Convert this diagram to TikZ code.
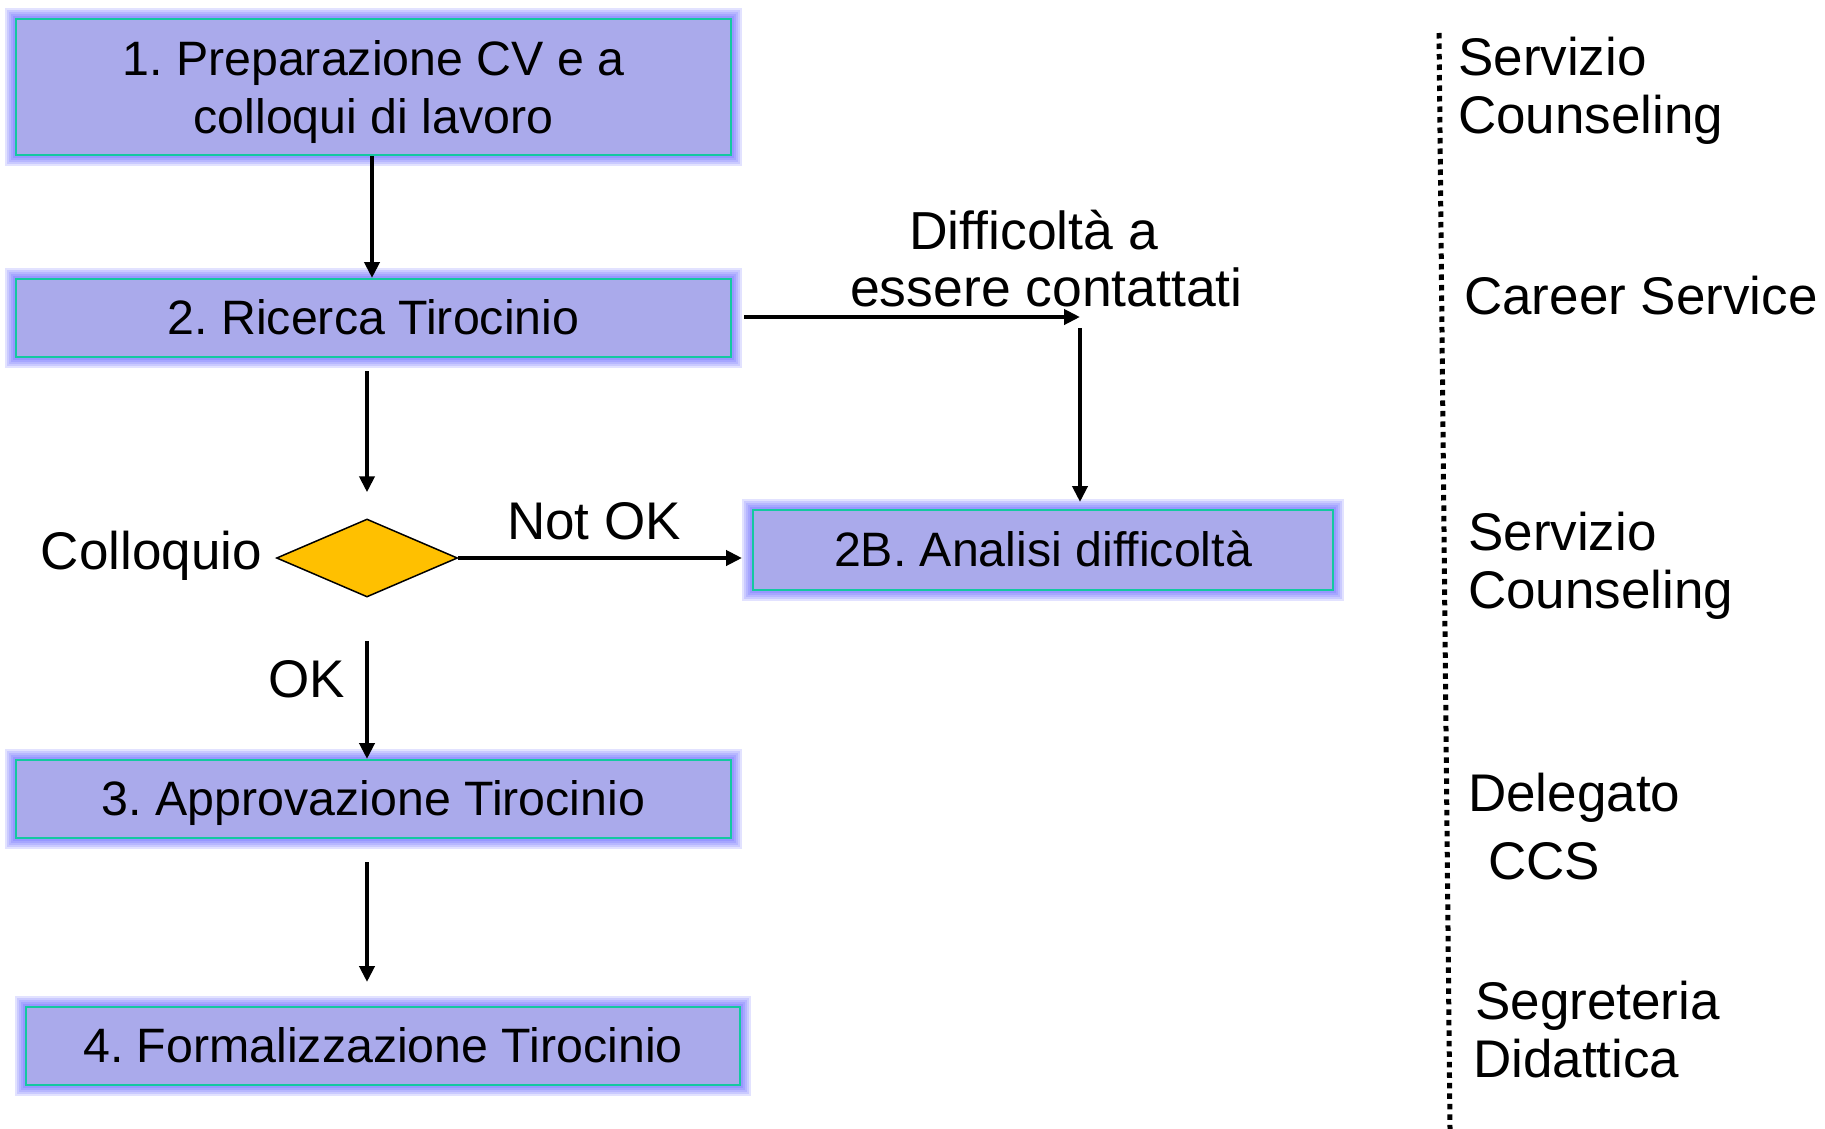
\documentclass[tikz,border=0pt]{standalone}
\usepackage{fontspec}
\setmainfont{Liberation Sans}
\frenchspacing
\usetikzlibrary{arrows.meta,shapes.geometric,calc}
\definecolor{boxfill}{RGB}{170,170,235}
\definecolor{boxline}{RGB}{20,200,160}
\definecolor{glowc}{RGB}{110,110,255}
\definecolor{diafill}{RGB}{255,192,0}
\begin{document}
\begin{tikzpicture}[x=1pt,y=-1pt,
  stepbox/.style={draw=boxline, line width=2pt, fill=boxfill, inner sep=0pt,
    font=\fontsize{48.3}{58}\selectfont, align=center,
    text height=43.7pt, text depth=10.2pt,
    preaction={draw=glowc, line width=22pt, draw opacity=0.2, rounded corners=11pt},
    preaction={draw=glowc, line width=18pt, draw opacity=0.2, rounded corners=9pt},
    preaction={draw=glowc, line width=14pt, draw opacity=0.2, rounded corners=7pt},
    preaction={draw=glowc, line width=10pt, draw opacity=0.22, rounded corners=5pt},
    preaction={draw=glowc, line width=6pt, draw opacity=0.25, rounded corners=3pt}},
  boxtxt/.style={font=\fontsize{48.3}{58}\selectfont, align=center, inner sep=0pt},
  lbl/.style={font=\fontsize{53}{58}\selectfont, inner sep=0pt},
  arr/.style={line width=4.5pt, -{Triangle[length=16pt,width=15pt]}},
]
\useasboundingbox (0,0) rectangle (1825,1129);
\fill[white] (0,0) rectangle (1825,1129);

% process boxes
\node[stepbox, minimum width=715pt, minimum height=136pt] (b1) at (373.5,87) {};
\node[boxtxt] (t1) at ($(b1.center)+(0,5)$) {1. Preparazione CV e a\\colloqui di lavoro};
\node[stepbox, minimum width=715pt, minimum height=78pt] (b2) at (373.5,318) {2. Ricerca Tirocinio};
\node[stepbox, minimum width=580pt, minimum height=80pt] (b2b) at (1043,550) {2B. Analisi difficoltà};
\node[stepbox, minimum width=715pt, minimum height=78pt] (b3) at (373.5,799) {3. Approvazione Tirocinio};
\node[stepbox, minimum width=714pt, minimum height=78pt] (b4) at (383,1046) {4. Formalizzazione Tirocinio};

% decision
\node[diamond, aspect=2.3, draw=black, line width=1.5pt, fill=diafill, inner sep=0pt,
      minimum width=181pt, minimum height=78pt] (dia) at (367,558) {};

% labels
\node[lbl, anchor=east] (col) at (262,556) {Colloquio};
\node[lbl] (nok) at (594,521) {Not OK};
\node[lbl] (ok) at (307,679) {OK};
\node[lbl, align=left, anchor=west, font=\fontsize{53.5}{57}\selectfont] (dif) at (850,259) {\hspace*{59pt}Difficoltà a\\essere contattati};

% connectors
\coordinate (c1) at (1080,317);
\draw[arr] ($(b1.south)+(-1.5,0)$) -- ($(b2.north)+(-1.5,0)$);
\draw[arr] ($(b2.east)+(12,-1)$) -- (c1);
\draw[arr] ($(c1)+(0,11)$) -- ($(c1 |- b2b.north)+(0,-7)$);
\draw[arr] ($(b2.south)+(-6.5,13)$) -- ($(dia.north)+(0,-26)$);
\draw[arr] (dia.east) -- ($(b2b.west)+(-10,8)$);
\draw[arr] ($(dia.south)+(0,43)$) -- (dia |- b3.north);
\draw[arr] ($(b3.south)+(-6.5,23)$) -- ($(b4.north)+(-16,-24)$);

% separator
\coordinate (dt) at (1439,33);
\coordinate (db) at (1450,1129);
\draw[line width=5pt, dash pattern=on 5.5pt off 5pt] (dt) -- (db);

% responsibility labels
\node[lbl, anchor=west, align=left] (r1) at (1458,91) {Servizio\\Counseling};
\node[lbl, anchor=west] (r2) at (1464,296) {Career Service};
\node[lbl, anchor=west, align=left] (r3) at (1468,566) {Servizio\\Counseling};
\node[lbl, anchor=west, align=left] (r4) at (1468,827) {Delegato\\[10pt]\hspace*{20pt}CCS};
\node[lbl, anchor=west, align=left] (r5) at (1473,1030) {\hspace*{2pt}Segreteria\\Didattica};
\end{tikzpicture}
\end{document}
